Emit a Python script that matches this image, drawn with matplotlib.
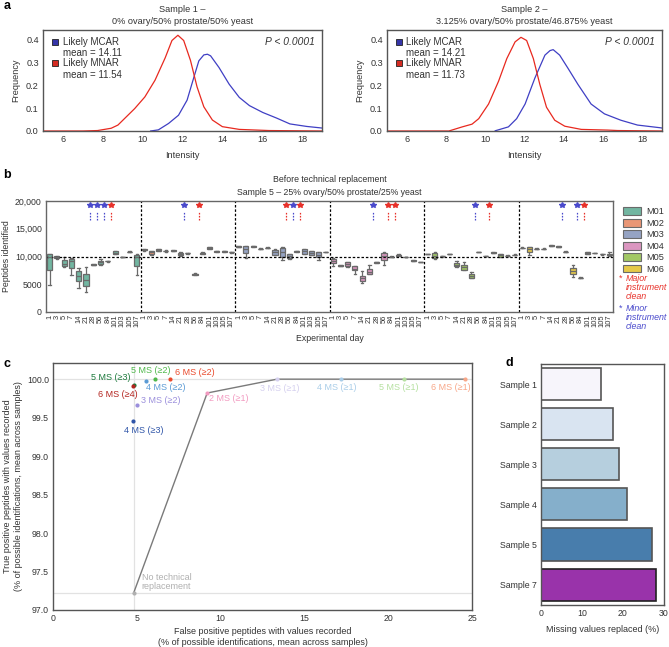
import colorsys
import matplotlib
matplotlib.use('Agg')
import matplotlib.pyplot as plt
import matplotlib.colors as mcolors
from matplotlib.patches import Patch
import numpy as np

plt.rcParams['font.family'] = ['Liberation Sans', 'DejaVu Sans']
plt.rcParams['font.size'] = 6.3
for k in ['text.color', 'axes.labelcolor', 'xtick.color', 'ytick.color']:
    plt.rcParams[k] = '#333333'

# ---------------- panel a: intensity densities ----------------
s1_mcar_x = [10.4, 10.79, 11.3, 11.8, 12.23, 12.57, 12.82, 13.07, 13.25, 13.41, 13.83, 14.34, 14.85, 15.36, 16.03, 16.71, 17.39, 18.23, 19.0]
s1_mcar_y = [0.0, 0.005, 0.033, 0.069, 0.135, 0.235, 0.307, 0.333, 0.336, 0.329, 0.278, 0.205, 0.147, 0.111, 0.081, 0.057, 0.031, 0.020, 0.013]
s1_mnar_x = [5.0, 7.0, 7.74, 8.42, 8.76, 9.18, 9.6, 10.11, 10.62, 11.13, 11.47, 11.77, 12.06, 12.4, 12.73, 13.07, 13.5, 14.0, 14.85, 16.34, 19.0]
s1_mnar_y = [0.0, 0.0, 0.002, 0.012, 0.026, 0.062, 0.098, 0.149, 0.222, 0.32, 0.396, 0.419, 0.396, 0.309, 0.193, 0.106, 0.048, 0.019, 0.007, 0.002, 0.0]
s2_mcar_x = [10.51, 11.18, 11.6, 12.03, 12.53, 13.04, 13.3, 13.46, 13.79, 14.21, 14.72, 15.39, 16.07, 16.91, 17.75, 18.93, 19.0]
s2_mcar_y = [0.001, 0.018, 0.054, 0.118, 0.232, 0.332, 0.352, 0.356, 0.332, 0.275, 0.204, 0.118, 0.075, 0.047, 0.026, 0.014, 0.013]
s2_mnar_x = [5.0, 8.15, 8.83, 9.33, 9.67, 10.17, 10.68, 11.1, 11.52, 11.82, 12.11, 12.45, 12.78, 13.12, 13.54, 14.05, 14.89, 16.24, 16.74, 19.0]
s2_mnar_y = [0.0, 0.0, 0.018, 0.03, 0.054, 0.118, 0.218, 0.317, 0.39, 0.41, 0.396, 0.317, 0.204, 0.104, 0.047, 0.021, 0.007, 0.004, 0.002, 0.0]
a_titles = ['Sample 1 –\n0% ovary/50% prostate/50% yeast',
            'Sample 2 –\n3.125% ovary/50% prostate/46.875% yeast']
a_means_mcar = ['14.11', '14.21']
a_means_mnar = ['11.54', '11.73']

# ---------------- panel b: peptides per day (lo, q1, med, q3, hi) ----------------
days = ['1', '3', '5', '7', '14', '21', '28', '56', '84', '101', '103', '105', '107']
machines = ['M01', 'M02', 'M03', 'M04', 'M05', 'M06']
m01 = [(4850, 7500, 9900, 10450, 10450), (9600, 9700, 9850, 10050, 10100), (8000, 8200, 8700, 9400, 9800),
       (6600, 7900, 9200, 9500, 9700), (4200, 5600, 6500, 7400, 7900), (3600, 4700, 5700, 6850, 8000),
       (8400, 8450, 8500, 8550, 8600), (8500, 8700, 8900, 9200, 9600), (9050, 9100, 9150, 9200, 9250),
       (10400, 10450, 10650, 10900, 10950), (9850, 9880, 9900, 9920, 9950), (10700, 10750, 10800, 10850, 10900),
       (6700, 8200, 9800, 10250, 10450)]
m02 = [(11050, 11100, 11200, 11300, 11350), (10300, 10450, 10700, 11000, 11050), (11000, 11050, 11150, 11300, 11400),
       (10850, 10900, 10950, 11050, 11100), (10950, 11000, 11030, 11080, 11100), (10150, 10300, 10450, 10650, 10700),
       (10500, 10530, 10550, 10580, 10600), (6600, 6650, 6750, 6900, 7000), (10400, 10450, 10550, 10650, 10700),
       (11350, 11400, 11500, 11600, 11650), (10800, 10850, 10900, 10950, 11000), (10800, 10850, 10900, 10950, 11000),
       (10650, 10700, 10750, 10800, 10850)]
m03 = [(11600, 11650, 11700, 11800, 11850), (9700, 10600, 11300, 11800, 11850), (11700, 11750, 11800, 11850, 11900),
       (11250, 11300, 11350, 11400, 11450), (11450, 11480, 11520, 11560, 11600), (10200, 10300, 10700, 11200, 11300),
       (9300, 9900, 10700, 11500, 11600), (9600, 9700, 10000, 10450, 10500), (10800, 10850, 10900, 10950, 11000),
       (10400, 10450, 10900, 11350, 11400), (10200, 10300, 10600, 10900, 11000), (9400, 9900, 10300, 10700, 10800),
       (10750, 10780, 10800, 10830, 10850)]
m04 = [(8200, 8800, 9200, 9600, 9700), (8200, 8250, 8300, 8400, 8450), (8000, 8300, 8600, 8900, 9000),
       (6900, 7450, 7800, 8200, 8300), (5200, 5600, 6000, 6500, 7300), (6800, 6850, 7200, 7700, 8500),
       (8800, 8850, 8900, 8950, 9000), (8400, 9400, 10000, 10600, 10700), (9800, 9850, 9900, 9950, 10000),
       (10000, 10050, 10180, 10300, 10350), (9850, 9880, 9900, 9920, 9950), (9150, 9180, 9220, 9260, 9300),
       (8900, 8940, 8980, 9020, 9060)]
m05 = [(10350, 10400, 10430, 10470, 10500), (9500, 9760, 10100, 10670, 10700), (9950, 9980, 10000, 10030, 10050),
       (10350, 10400, 10430, 10470, 10500), (8000, 8180, 8500, 8800, 9200), (7580, 7580, 8000, 8430, 9000),
       (6000, 6070, 6400, 6850, 7200), (10750, 10780, 10800, 10830, 10850), (10100, 10110, 10120, 10130, 10140),
       (10600, 10640, 10670, 10700, 10740), (9900, 9900, 10200, 10490, 10500), (10050, 10090, 10120, 10150, 10190),
       (10250, 10280, 10300, 10330, 10360)]
m06 = [(11450, 11490, 11520, 11560, 11600), (10300, 10800, 11300, 11650, 11700), (11250, 11300, 11340, 11400, 11450),
       (11250, 11300, 11340, 11400, 11450), (11880, 11920, 11950, 12000, 12050), (11680, 11720, 11760, 11800, 11850),
       (10700, 10750, 10800, 10850, 10900), (6300, 6850, 7300, 7900, 8500), (6000, 6050, 6100, 6150, 6200),
       (10350, 10450, 10600, 10700, 10750), (10550, 10570, 10600, 10630, 10650), (10300, 10350, 10400, 10450, 10500),
       (10100, 10200, 10300, 10450, 10750)]
box_data = [m01, m02, m03, m04, m05, m06]
reference_level = 9800
# cleans: machine index, after day index, kind
clean_machine = [0, 0, 0, 0, 1, 1, 2, 2, 2, 3, 3, 3, 4, 4, 5, 5, 5]
clean_after = [5, 6, 7, 8, 5, 7, 6, 7, 8, 5, 7, 8, 6, 8, 5, 7, 8]
clean_kind = ['minor', 'minor', 'minor', 'major', 'minor', 'major', 'major', 'minor', 'major',
              'minor', 'major', 'major', 'minor', 'major', 'minor', 'minor', 'major']

# ---------------- panel c: true vs false positives ----------------
c_labels = ['5 MS (≥3)', '6 MS (≥4)', '5 MS (≥2)', '6 MS (≥2)', '4 MS (≥2)', '3 MS (≥2)', '4 MS (≥3)',
            '2 MS (≥1)', '3 MS (≥1)', '4 MS (≥1)', '5 MS (≥1)', '6 MS (≥1)', 'No technical\nreplacement']
c_fp = [4.82, 4.80, 6.11, 6.99, 5.52, 5.04, 4.78, 9.20, 13.37, 17.20, 20.94, 24.58, 4.81]
c_tp = [99.926, 99.905, 100.0, 100.0, 99.97, 99.66, 99.45, 99.82, 100.0, 100.0, 100.0, 100.0, 97.22]
c_line_order = [12, 7, 8, 9, 10, 11]

# ---------------- panel d: missing values replaced ----------------
d_samples = ['Sample 1', 'Sample 2', 'Sample 3', 'Sample 4', 'Sample 5', 'Sample 7']
d_values = [14.7, 17.5, 19.1, 21.0, 27.1, 28.2]

# ---------------- figure ----------------
W, H = 669, 647
fig = plt.figure(figsize=(W / 100, H / 100), dpi=100)


def add_ax(left, top, right, bottom):
    return fig.add_axes([left / W, 1 - bottom / H, (right - left) / W, (bottom - top) / H])


def frame(ax, c='#555555', lw=1.0):
    for s in ax.spines.values():
        s.set_color(c)
        s.set_linewidth(lw)
    ax.tick_params(length=0, pad=3)


def desat(c, p=0.75):
    h, l, s = colorsys.rgb_to_hls(*mcolors.to_rgb(c))
    return colorsys.hls_to_rgb(h, l, s * p)


blue_a = '#3f3fc4'
red_a = '#e8291f'

# panel a
curves = [(s1_mcar_x, s1_mcar_y, s1_mnar_x, s1_mnar_y), (s2_mcar_x, s2_mcar_y, s2_mnar_x, s2_mnar_y)]
a_boxes = [(43, 30, 322, 131), (387, 30, 662, 131)]
for i in range(2):
    ax = add_ax(*a_boxes[i])
    frame(ax)
    bx, by, rx, ry = curves[i]
    ax.plot(bx, by, color=blue_a, lw=0.9)
    ax.plot(rx, ry, color=red_a, lw=0.9)
    ax.set_xlim(5, 19)
    ax.set_ylim(0, 0.442)
    ax.set_xticks([6, 8, 10, 12, 14, 16, 18])
    ax.set_yticks([0, 0.1, 0.2, 0.3, 0.4])
    ax.set_yticklabels(['0.0', '0.1', '0.2', '0.3', '0.4'])
    ax.tick_params(labelsize=6.6)
    ax.set_xlabel('Intensity', labelpad=5, fontsize=6.6)
    ax.set_ylabel('Frequency', labelpad=4, fontsize=6.6)
    ax.set_title(a_titles[i], fontsize=6.6, pad=4, linespacing=1.5, color='#333333')
    ax.plot([0.042], [0.88], 's', ms=4.5, mfc='#3535a8', mec='#222222', mew=0.6, transform=ax.transAxes)
    ax.plot([0.042], [0.67], 's', ms=4.5, mfc='#d42b22', mec='#222222', mew=0.6, transform=ax.transAxes)
    ax.text(0.07, 0.88, 'Likely MCAR', transform=ax.transAxes, va='center', fontsize=7.0)
    ax.text(0.07, 0.775, 'mean = ' + a_means_mcar[i], transform=ax.transAxes, va='center', fontsize=7.0)
    ax.text(0.07, 0.67, 'Likely MNAR', transform=ax.transAxes, va='center', fontsize=7.0)
    ax.text(0.07, 0.55, 'mean = ' + a_means_mnar[i], transform=ax.transAxes, va='center', fontsize=7.0)
    ax.text(0.975, 0.88, 'P < 0.0001', transform=ax.transAxes, ha='right', va='center', style='italic', fontsize=7.4)

# panel b
axb = add_ax(46, 201, 613, 311.7)
frame(axb, '#666666')
set2 = ['#66c2a5', '#fc8d62', '#8da0cb', '#e78ac3', '#a6d854', '#ffd92f']
box_cols = [desat(c) for c in set2]
stats, face = [], []
for k in range(len(machines)):
    for lo, q1, med, q3, hi in box_data[k]:
        stats.append(dict(whislo=lo, q1=q1, med=med, q3=q3, whishi=hi, fliers=[]))
        face.append(box_cols[k])
n = len(days)
positions = np.arange(len(stats))
grey = '#6a6a6a'
bp = axb.bxp(stats, positions=positions, widths=0.7, patch_artist=True, showfliers=False,
             boxprops=dict(edgecolor=grey, linewidth=0.9),
             whiskerprops=dict(color=grey, linewidth=0.9),
             capprops=dict(color=grey, linewidth=0.9),
             medianprops=dict(color=grey, linewidth=0.9))
for patch, c in zip(bp['boxes'], face):
    patch.set_facecolor(c)
for k in range(1, len(machines)):
    axb.axvline(k * n - 0.5, color='k', ls=(0, (2, 1.5)), lw=0.9)
axb.axhline(reference_level, color='k', ls=(0, (2, 1.5)), lw=0.9)
star_col = {'major': '#e8312a', 'minor': '#4a4acc'}
for m, d, kind in zip(clean_machine, clean_after, clean_kind):
    x = m * n + d + 0.5
    axb.plot([x], [19250], marker='*', ms=3.8, color=star_col[kind], ls='none')
    axb.vlines(x, 16500, 18100, color=star_col[kind], ls=(0, (1.3, 1.1)), lw=0.9)
axb.set_xlim(-0.5, len(stats) - 0.5)
axb.set_ylim(0, 20000)
axb.set_xticks(positions)
axb.set_xticklabels(days * len(machines), rotation=90, fontsize=5.4)
axb.set_yticks([0, 5000, 10000, 15000, 20000])
axb.set_yticklabels(['0', '5000', '10,000', '15,000', '20,000'])
axb.tick_params(axis='x', pad=2)
axb.set_ylabel('Peptides identified', labelpad=3)
axb.set_xlabel('Experimental day', labelpad=5)
axb.set_title('Before technical replacement\nSample 5 – 25% ovary/50% prostate/25% yeast',
              fontsize=6.3, pad=4, linespacing=1.6, color='#333333')
handles = [Patch(facecolor=c, edgecolor=grey, linewidth=0.8) for c in box_cols]
axb.legend(handles, machines, loc='upper left', bbox_to_anchor=(1.012, 0.975), frameon=False,
           handlelength=1.9, handleheight=0.9, labelspacing=0.27, handletextpad=0.6, borderaxespad=0,
           fontsize=6.6)
fig.text(619 / W, 1 - 278 / H, '*', color=star_col['major'], fontsize=6.4, va='center')
fig.text(626 / W, 1 - 274 / H, 'Major\ninstrument\nclean', color=star_col['major'], style='italic',
         fontsize=6.4, va='top', linespacing=1.0)
fig.text(619 / W, 1 - 308 / H, '*', color=star_col['minor'], fontsize=6.4, va='center')
fig.text(626 / W, 1 - 304 / H, 'Minor\ninstrument\nclean', color=star_col['minor'], style='italic',
         fontsize=6.4, va='top', linespacing=1.0)

# panel c
axc = add_ax(53, 363, 472, 610)
frame(axc)
ref_col = '#e2e2e2'
axc.axvline(c_fp[12], color=ref_col, lw=0.9, zorder=0)
axc.axhline(100.0, color=ref_col, lw=0.9, zorder=0)
axc.axhline(c_tp[12], color=ref_col, lw=0.9, zorder=0)
axc.plot([c_fp[j] for j in c_line_order], [c_tp[j] for j in c_line_order], color='#7a7a7a', lw=1.0, zorder=1)
c_cols = ['#1c7a3c', '#b3241f', '#4fb84a', '#ea4a2c', '#5b9bd5', '#9b8fdc', '#2f55a8',
          '#f29ac0', '#d5d0ef', '#a9cde8', '#b5e0a0', '#f8a788', '#b0b0b0']
c_offsets = [(-3, 7), (4, -8), (-5, 9), (5, 7), (0, -6), (4, 4.5), (11, -9),
             (2, -5), (3, -9), (-5, -8.5), (-5.5, -8.5), (-14, -8.5), (8, 11)]
c_ha = ['right', 'right', 'center', 'left', 'left', 'left', 'center',
        'left', 'center', 'center', 'center', 'center', 'left']
for j in range(len(c_labels)):
    axc.scatter([c_fp[j]], [c_tp[j]], s=9, color=c_cols[j], zorder=3, linewidths=0)
    axc.annotate(c_labels[j], (c_fp[j], c_tp[j]), xytext=c_offsets[j], textcoords='offset pixels',
                 ha=c_ha[j], va='center', color=c_cols[j], fontsize=6.5,
                 linespacing=1.1)
axc.set_xlim(0, 25)
axc.set_ylim(97.0, 100.21)
axc.set_xticks([0, 5, 10, 15, 20, 25])
axc.set_yticks([97.0, 97.5, 98.0, 98.5, 99.0, 99.5, 100.0])
axc.set_yticklabels(['97.0', '97.5', '98.0', '98.5', '99.0', '99.5', '100.0'])
axc.set_xlabel('False positive peptides with values recorded\n(% of possible identifications, mean across samples)',
               labelpad=3, linespacing=1.25, fontsize=6.5)
axc.set_ylabel('True positive peptides with values recorded\n(% of possible identifications, mean across samples)',
               labelpad=2.5, linespacing=1.3, fontsize=6.5)

# panel d
axd = add_ax(541, 364, 664, 605)
frame(axd)
d_cols = ['#f7f5fb', '#d9e4f1', '#b6cfde', '#85afcb', '#487dac', '#9933aa']
d_edges = ['#555555'] * 5 + ['#222222']
axd.barh(np.arange(len(d_samples)), d_values, height=0.8, color=d_cols, edgecolor=d_edges, linewidth=1.2)
axd.set_ylim(len(d_samples) - 0.49, -0.505)
axd.set_xlim(0, 30.1)
axd.set_xticks([0, 10, 20, 30])
axd.set_yticks(np.arange(len(d_samples)))
axd.set_yticklabels(d_samples)
axd.set_xlabel('Missing values replaced (%)', labelpad=5, fontsize=6.5)

for lab, x, y in [('a', 4, 6), ('b', 3, 175), ('c', 3, 364), ('d', 506, 363)]:
    fig.text(x / W, 1 - y / H, lab, fontsize=9, fontweight='bold', color='black', va='center')

fig.savefig('out.png', dpi=100)
